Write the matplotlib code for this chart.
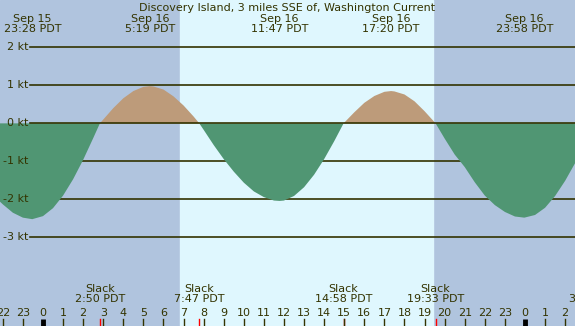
import matplotlib.pyplot as plt

# hours from Sep 16 00:00 PDT, current speed in knots
hours = [-2.14, -2.0, -1.5, -1.0, -0.533, 0.0, 0.5, 1.0, 1.5, 2.0, 2.5, 2.833,
         3.0, 3.5, 4.0, 4.5, 5.0, 5.317, 5.5, 6.0, 6.5, 7.0, 7.5, 7.783,
         8.0, 8.5, 9.0, 9.5, 10.0, 10.5, 11.0, 11.5, 11.783, 12.0, 12.5, 13.0,
         13.5, 14.0, 14.5, 14.967, 15.5, 16.0, 16.5, 17.0, 17.333, 17.5, 18.0,
         18.5, 19.0, 19.55, 20.0, 20.5, 21.0, 21.5, 22.0, 22.5, 23.0, 23.5,
         23.967, 24.5, 25.0, 25.5, 26.0, 26.49]
speed = [-2.06, -2.13, -2.35, -2.48, -2.52, -2.44, -2.23, -1.90, -1.47, -0.96, -0.39, 0.0,
         0.10, 0.40, 0.66, 0.85, 0.96, 0.98, 0.97, 0.89, 0.71, 0.47, 0.18, 0.0,
         -0.17, -0.57, -0.94, -1.27, -1.56, -1.79, -1.94, -2.03, -2.04, -2.03, -1.91, -1.68,
         -1.35, -0.94, -0.47, 0.0, 0.29, 0.54, 0.72, 0.83, 0.85, 0.84, 0.76,
         0.58, 0.32, 0.0, -0.40, -0.82, -1.15, -1.55, -1.90, -2.15, -2.33, -2.45,
         -2.48, -2.41, -2.22, -1.91, -1.51, -1.05]

# max flood / max ebb events (top labels)
peak_hours = [-0.533, 5.317, 11.783, 17.333, 23.967]
peak_labels = ["Sep 15\n23:28 PDT", "Sep 16\n5:19 PDT", "Sep 16\n11:47 PDT",
               "Sep 16\n17:20 PDT", "Sep 16\n23:58 PDT"]

# slack water events (bottom labels)
slack_hours = [2.833, 7.783, 14.967, 19.55, 27.46]
slack_labels = ["Slack\n2:50 PDT", "Slack\n7:47 PDT", "Slack\n14:58 PDT",
                "Slack\n19:33 PDT", "Slack\n3:28 PDT"]

sunrise, sunset = 6.82, 19.42
kt_levels = [2, 1, 0, -1, -2, -3]
hour_ticks = list(range(-2, 27))

night = "#b0c4de"
day = "#dff7fe"
ink = "#333300"

fig = plt.figure(figsize=(5.75, 3.26), dpi=100)
ax = fig.add_axes([0, 0, 1, 1])
x0, x1 = -2.14, 26.49
y0, y1 = -5.33, 3.245
ax.set_xlim(x0, x1)
ax.set_ylim(y0, y1)
ax.axis("off")

ax.axvspan(x0, x1, color=night, zorder=0)
ax.axvspan(sunrise, sunset, color=day, zorder=0.5)

for lv in kt_levels:
    ax.plot([x0 + 1.5, x1], [lv, lv], color=ink, lw=1.2, zorder=3 if lv == 0 else 1)
    ax.text(x0 + 1.4, lv, f"{lv} kt", ha="right", va="center", fontsize=8, color=ink)

ax.fill_between(hours, speed, 0, where=[s >= 0 for s in speed], interpolate=True,
                color="#bd9b7a", lw=0, zorder=2)
ax.fill_between(hours, speed, 0, where=[s <= 0 for s in speed], interpolate=True,
                color="#509673", lw=0, zorder=2)

ax.text((x0 + x1) / 2, 3.03, "Discovery Island, 3 miles SSE of, Washington Current",
        ha="center", va="center", fontsize=8, color=ink)
for h, lab in zip(peak_hours, peak_labels):
    ax.text(h, 2.61, lab, ha="center", va="center", fontsize=8, color=ink,
            linespacing=1.05)
for h, lab in zip(slack_hours, slack_labels):
    ax.text(h, -4.5, lab, ha="center", va="center", fontsize=8, color=ink,
            linespacing=1.0)
    ax.plot([h, h], [y0, -5.15], color="red", lw=1, zorder=4)

for h in hour_ticks:
    ax.text(h, -4.98, str(h % 24), ha="center", va="center", fontsize=8, color=ink)
    if h % 24 == 0:
        ax.plot([h, h], [y0, -5.15], color="black", lw=3.5, solid_capstyle="butt", zorder=4)
    else:
        ax.plot([h, h], [y0, -5.15], color=ink, lw=1, zorder=4)

fig.savefig("out.png", dpi=100)
